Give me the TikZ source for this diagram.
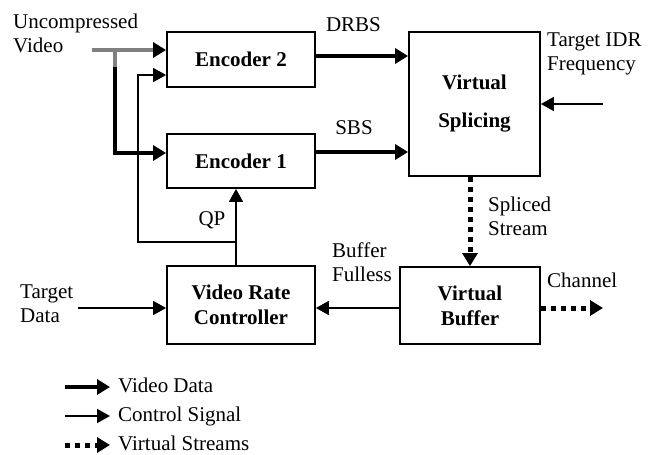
\documentclass[tikz,border=0pt]{standalone}
\usepackage{fontspec}
\setmainfont{Liberation Serif}
\usetikzlibrary{arrows.meta}
\begin{document}
\begin{tikzpicture}[x=1pt,y=-1pt,
  every node/.style={font=\fontsize{21}{24}\selectfont},
  blk/.style={draw,line width=1.8pt,align=center,inner sep=0pt,font=\fontsize{21}{25}\selectfont\bfseries},
  txt/.style={align=left,inner sep=0pt},
  vdata/.style={line width=4pt,-{Triangle[length=13pt,width=15pt]}},
  ctrl/.style={line width=1.6pt,-{Triangle[length=13pt,width=14pt]}},
  vstream/.style={line width=5pt,dash pattern=on 5pt off 5pt,-{Triangle[length=13pt,width=15pt]}}]
\useasboundingbox (0,0) rectangle (657,455);
% blocks
\node[blk,minimum width=148pt,minimum height=55pt] (enc2) at (241,59.5) {Encoder 2};
\node[blk,minimum width=148pt,minimum height=54pt] (enc1) at (241,161) {Encoder 1};
\node[blk,minimum width=131pt,minimum height=144pt] (vs) at (474.5,104) {Virtual\\[13pt]Splicing};
\node[blk,minimum width=148pt,minimum height=78pt] (vrc) at (241,305) {Video Rate\\Controller};
\node[blk,minimum width=140pt,minimum height=77pt] (vb) at (470,305.5) {Virtual\\Buffer};
% free ends
\coordinate (vin) at (92,50);
\coordinate (vsplit) at (115,50);
\coordinate (idr) at (603,104);
\coordinate (tdata) at (78,308);
\coordinate (chan) at (603,308);
\coordinate (qpj) at ([xshift=-5pt,yshift=23pt]vrc.north);
% labels
\node[txt,anchor=north west] (uvid) at (13,14) {Uncompressed\\Video};
\node (drbs) at (353.5,25) {DRBS};
\node (sbs) at (354,127.5) {SBS};
\node[txt,anchor=north west] (tidr) at (547,33) {Target IDR\\Frequency};
\node[txt,anchor=north west] (spl) at (488,197) {Spliced\\Stream};
\node (qp) at (212,220) {QP};
\node[txt,anchor=north west] (bful) at (332,243) {Buffer\\Fulless};
\node[txt,anchor=north west] (tdat) at (20,285) {Target\\Data};
\node[txt,anchor=north west] (chl) at (547,273) {Channel};
% video data
\draw[line width=3.5pt,gray,-{Triangle[length=13pt,width=15pt,color=black,fill=black]}] (vin) -- ([yshift=9.5pt]enc2.west);
\draw[line width=3.5pt,gray] (vsplit) -- ++(0,17);
\draw[vdata] (vsplit) ++(0,17) |- ([yshift=8pt]enc1.west);
\draw[vdata] ([yshift=3.5pt]enc2.east) -- ([yshift=3.5pt]enc2.east -| vs.west);
\draw[vdata] ([yshift=9pt]enc1.east) -- ([yshift=9pt]enc1.east -| vs.west);
% control signals
\draw[ctrl] ([xshift=-5pt]vrc.north) -- ([xshift=-5pt]vrc.north |- enc1.south);
\draw[ctrl] (qpj) -| ([xshift=-28pt,yshift=-15.5pt]enc2.west) -- ([yshift=-15.5pt]enc2.west);
\draw[ctrl] (idr) -- (vs.east);
\draw[ctrl] (vb.west |- chan) -- (vrc.east |- chan);
\draw[ctrl] (tdata) -- (tdata -| vrc.west);
% virtual streams
\draw[vstream] (vs.south -| vb.north) -- (vb.north);
\draw[vstream] (vb.east |- chan) -- (chan);
% legend
\coordinate (lvd0) at (65,387);
\coordinate (lcs0) at (65,416);
\coordinate (lvs0) at (65,445);
\node[txt,anchor=base west] (lvd) at (118,392) {Video Data};
\node[txt,anchor=base west] (lcs) at (118,421) {Control Signal};
\node[txt,anchor=base west] (lvs) at (118,450) {Virtual Streams};
\draw[vdata] (lvd0) -- ++(45,0);
\draw[ctrl] (lcs0) -- ++(45,0);
\draw[vstream] (lvs0) -- ++(45,0);
\end{tikzpicture}
\end{document}
